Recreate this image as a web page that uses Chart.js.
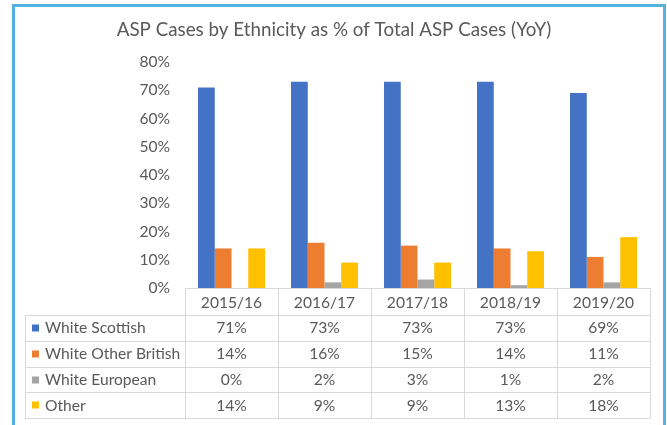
<!DOCTYPE html>
<html>
<head>
<meta charset="utf-8">
<script src="https://cdn.jsdelivr.net/npm/chart.js@4.4.1/dist/chart.umd.min.js"></script>
<style>
  html, body { margin: 0; padding: 0; background: #ffffff; overflow: hidden; width: 667px; height: 425px; }
  #frame { position: absolute; left: 12px; top: 4px; width: 648px; height: 460px;
           border: 3px solid #55b1de; border-bottom: none; }
  #chart { position: absolute; left: 0; top: 0; }
</style>
</head>
<body>
<div id="frame"></div>
<canvas id="chart" width="667" height="425"></canvas>
<script>
// Financial years shown on the category axis
const years = ['2015/16', '2016/17', '2017/18', '2018/19', '2019/20'];

// Share of all ASP cases (%) per ethnic group
const whiteScottish     = [71, 73, 73, 73, 69];
const whiteOtherBritish = [14, 16, 15, 14, 11];
const whiteEuropean     = [0, 2, 3, 1, 2];
const otherEthnicity    = [14, 9, 9, 13, 18];

const seriesNames  = ['White Scottish', 'White Other British', 'White European', 'Other'];
const seriesColors = ['#4472c4', '#ed7d31', '#a5a5a5', '#ffc000'];

const titleText = 'ASP Cases by Ethnicity as % of Total ASP Cases (YoY)';
const textColor = '#595959';
const ruleColor = '#d9d9d9';
const fontFamily = 'Lato, "Liberation Sans", sans-serif';
const bodySize = 15.6;

const seriesValues = [whiteScottish, whiteOtherBritish, whiteEuropean, otherEthnicity];

// Title above the plot and a data table under the category axis
const titleAndTable = {
  id: 'titleAndTable',
  afterDraw(chart) {
    const ctx = chart.ctx;
    const xs = chart.scales.x;
    const area = chart.chartArea;
    const n = years.length;
    const colW = (xs.right - xs.left) / n;
    const headTop = area.bottom;
    const headBottom = xs.bottom;
    const rowH = 25.8;
    const tableLeft = 25;
    const tableBottom = headBottom + rowH * seriesNames.length;
    const px = v => Math.round(v) + 0.5;

    ctx.save();
    // title
    ctx.fillStyle = textColor;
    ctx.font = '18.8px ' + fontFamily;
    ctx.textAlign = 'center';
    ctx.textBaseline = 'middle';
    ctx.fillText(titleText, 334, 30);

    // grid of the table
    ctx.strokeStyle = ruleColor;
    ctx.lineWidth = 1;
    ctx.beginPath();
    ctx.moveTo(xs.left, px(headTop));
    ctx.lineTo(xs.right, px(headTop));
    for (let r = 0; r <= seriesNames.length; r++) {
      const y = px(headBottom + r * rowH);
      ctx.moveTo(tableLeft, y);
      ctx.lineTo(xs.right, y);
    }
    ctx.moveTo(px(tableLeft), headBottom);
    ctx.lineTo(px(tableLeft), tableBottom);
    for (let c = 0; c <= n; c++) {
      const x = px(xs.left + c * colW);
      ctx.moveTo(x, headTop);
      ctx.lineTo(x, tableBottom);
    }
    ctx.stroke();

    // row labels with colour keys, and the values
    ctx.font = bodySize + 'px ' + fontFamily;
    ctx.textBaseline = 'middle';
    seriesNames.forEach((name, r) => {
      const cy = headBottom + r * rowH + rowH / 2;
      ctx.fillStyle = seriesColors[r];
      ctx.fillRect(32, Math.round(cy) - 3.5, 7, 7);
      ctx.fillStyle = textColor;
      ctx.textAlign = 'left';
      ctx.fillText(name, 45, cy + 0.5);
      ctx.textAlign = 'center';
      seriesValues[r].forEach((v, i) => {
        ctx.fillText(Math.round(v) + '%', xs.getPixelForValue(i), cy + 0.5);
      });
    });
    ctx.restore();
  }
};

new Chart(document.getElementById('chart'), {
  type: 'bar',
  data: {
    labels: years,
    datasets: seriesNames.map((name, i) => ({
      label: name,
      data: seriesValues[i],
      backgroundColor: seriesColors[i],
      borderWidth: 0,
      categoryPercentage: 0.72,
      barPercentage: 1.0
    }))
  },
  options: {
    responsive: false,
    devicePixelRatio: 1,
    animation: false,
    layout: { padding: { top: 62, right: 17, bottom: 110, left: 0 } },
    plugins: {
      legend: { display: false },
      title: { display: false },
      tooltip: { enabled: false }
    },
    scales: {
      x: {
        grid: { display: false, drawTicks: false },
        border: { display: false },
        ticks: { color: textColor, font: { family: fontFamily, size: bodySize }, padding: 6, maxRotation: 0 },
        afterFit(scale) { scale.height = 27; }
      },
      y: {
        min: 0,
        max: 80,
        grid: { display: false, drawTicks: false },
        border: { display: false },
        ticks: {
          stepSize: 10,
          color: textColor,
          font: { family: fontFamily, size: bodySize },
          padding: 15,
          callback: v => v + '%'
        },
        afterFit(scale) { scale.width = 185; }
      }
    }
  },
  plugins: [titleAndTable]
});
</script>
</body>
</html>
